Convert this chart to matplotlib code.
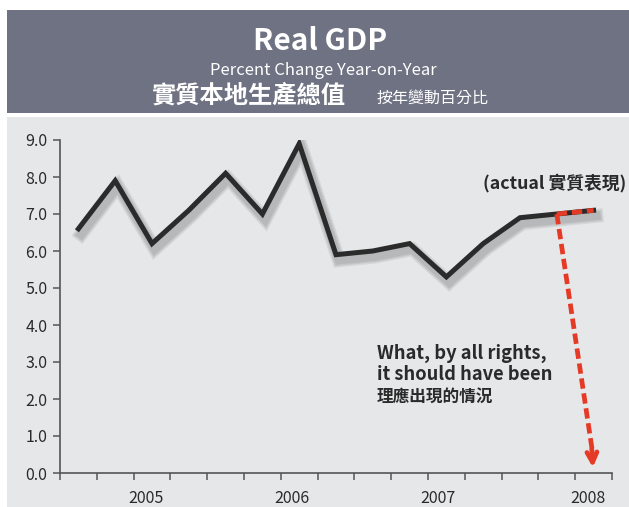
"""Real GDP, percent change year-on-year, with the 'should have been' drop."""

import matplotlib

matplotlib.use("Agg")
import matplotlib.patheffects as pe
import matplotlib.pyplot as plt
from matplotlib.patches import Rectangle

plt.rcParams["font.family"] = ["Noto Sans CJK TC", "DejaVu Sans"]

# quarterly real GDP growth
quarter_idx = list(range(15))
gdp_growth = [6.6, 7.9, 6.2, 7.1, 8.1, 7.0, 8.9, 5.9, 6.0, 6.2, 5.3, 6.2, 6.9, 7.0, 7.1]

# counterfactual: from the last-but-one quarter straight down to zero
should_idx = [13, 14]
should_growth = [7.0, 0.0]

year_labels = ["2005", "2006", "2007", "2008"]
year_pos = [2.35, 6.3, 10.27, 14.35]
y_ticks = [0, 1, 2, 3, 4, 5, 6, 7, 8, 9]

BAND = "#6e7282"
PANEL = "#e5e7e9"
LINE = "#2b2b2b"
RED = "#e53a25"
TXT = "#2a2a2a"

W, H = 629, 507
fig = plt.figure(figsize=(W / 100, H / 100), dpi=100)
fig.patch.set_facecolor("white")

# header band and panel background
fig.patches.append(Rectangle((7 / W, 1 - 113 / H), 1, 103 / H, transform=fig.transFigure,
                             facecolor=BAND, edgecolor="none", zorder=-2))
fig.patches.append(Rectangle((7 / W, 0), 1, 1 - 117 / H, transform=fig.transFigure,
                             facecolor=PANEL, edgecolor="none", zorder=-2))

fig.text(320 / W, 1 - 50 / H, "Real GDP", ha="center", va="baseline", color="white",
         fontsize=21.5, fontweight="heavy")
fig.text(323 / W, 1 - 75 / H, "Percent Change Year-on-Year", ha="center", va="baseline",
         color="white", fontsize=12)
fig.text(152 / W, 1 - 96 / H, "實質本地生產總值", ha="left", va="center", color="white",
         fontsize=17.5, fontweight="black")
fig.text(377 / W, 1 - 98 / H, "按年變動百分比", ha="left", va="center", color="white",
         fontsize=11.5)

ax = fig.add_axes([60 / W, 34 / H, 552 / W, 333 / H])
ax.set_facecolor("none")
ax.set_xlim(0, 15)
ax.set_ylim(0, 9)
for side in ("top", "right"):
    ax.spines[side].set_visible(False)
for side in ("left", "bottom"):
    ax.spines[side].set_color("#555555")
    ax.spines[side].set_linewidth(1.2)

ax.set_yticks(y_ticks)
ax.set_yticklabels([f"{v:.1f}" for v in y_ticks])
ax.tick_params(axis="y", direction="out", length=5, width=1.1, color="#555555",
               labelsize=11.5, labelcolor=TXT, pad=4)

ax.set_xticks(range(16))
ax.set_xticklabels([])
ax.set_xticks(year_pos, minor=True)
ax.set_xticklabels(year_labels, minor=True)
ax.tick_params(axis="x", which="major", direction="out", length=5, width=1.1, color="#555555")
ax.tick_params(axis="x", which="minor", length=0, labelsize=11.5, labelcolor=TXT, pad=12)

x = [i + 0.5 for i in quarter_idx]
shadow = [pe.SimpleLineShadow(offset=(2, -4), shadow_color="black", alpha=0.07, linewidth=w)
          for w in (10, 8, 6)]
ax.plot(x, gdp_growth, color=LINE, linewidth=3.6, solid_joinstyle="miter",
        path_effects=shadow + [pe.Normal()], zorder=3)

# red dashes over the last actual segment
xs = [i + 0.5 for i in should_idx]
ax.plot(xs, gdp_growth[-2:], color=RED, linewidth=3.4, dashes=(2.2, 1.0), zorder=4)

# red dashed drop to zero with an open arrowhead
tip_x = xs[1] - 0.02
tip_y = should_growth[1] + 0.15
ax.plot([xs[0], tip_x], [should_growth[0], tip_y + 0.35], color=RED, linewidth=3.4,
        dashes=(2.2, 1.0), zorder=4)
ax.annotate("", xy=(tip_x, tip_y), xytext=(tip_x - 0.03, tip_y + 0.5),
            arrowprops=dict(arrowstyle="->", color=RED, lw=3.4, mutation_scale=18,
                            shrinkA=0, shrinkB=0), zorder=5)

ax.text(15.38, 7.84, "(actual 實質表現)", ha="right", va="center", fontsize=12.8,
        fontweight="bold", color=TXT, clip_on=False)
ax.text(8.61, 3.24, "What, by all rights,", ha="left", va="center", fontsize=13.2,
        fontweight="bold", color=TXT)
ax.text(8.61, 2.65, "it should have been", ha="left", va="center", fontsize=13.2,
        fontweight="bold", color=TXT)
ax.text(8.61, 2.05, "理應出現的情況", ha="left", va="center", fontsize=12,
        fontweight="black", color=TXT)

fig.savefig("out.png", dpi=100)
